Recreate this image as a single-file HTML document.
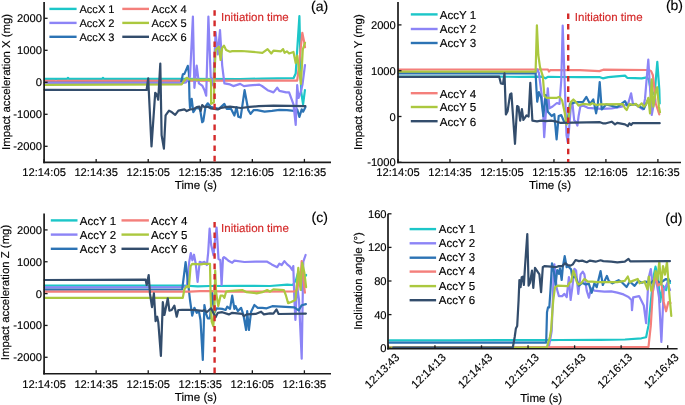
<!DOCTYPE html>
<html><head><meta charset="utf-8"><style>
html,body{margin:0;padding:0;background:#fff;width:685px;height:405px;overflow:hidden}
svg{display:block;font-family:"Liberation Sans", sans-serif} text{stroke-width:0.15px;text-rendering:geometricPrecision} svg{transform:translateZ(0)}
</style></head><body>
<svg width="685" height="405" viewBox="0 0 685 405">
<polyline points="44.6,78.9 67.0,78.9 68.0,77.8 69.0,78.9 102.0,78.9 103.0,77.8 104.0,78.9 182.0,78.9 240.0,79.0 262.0,78.6 293.5,78.2 295.7,73.5 297.2,50.0 299.4,16.1 301.2,91.7 302.4,100.0 303.1,104.3 304.9,90.2" fill="none" stroke="#1cc6c8" stroke-width="2.2" stroke-linejoin="round" stroke-linecap="round"/>
<polyline points="44.6,80.9 55.0,80.9 56.0,82.0 57.0,80.9 297.2,80.6 298.5,70.0 300.6,49.4 302.3,32.8 303.9,40.6 305.0,47.2" fill="none" stroke="#f47f7b" stroke-width="2.2" stroke-linejoin="round" stroke-linecap="round"/>
<polyline points="44.6,82.8 181.1,82.5 182.8,74.4 184.4,73.9 185.6,71.1 187.8,65.8 188.9,73.3 189.5,99.0 190.0,107.8 191.7,98.9 193.3,112.2 196.1,107.8 200.0,108.9 202.2,122.2 203.3,121.1 205.6,106.1 207.8,103.3 210.6,106.7 214.4,107.8 218.9,108.9 224.4,103.9 226.7,108.9 231.1,108.9 234.4,115.6 236.5,107.0 238.3,116.7 240.6,117.6 244.6,90.2 248.3,110.2 250.6,113.9 253.5,110.2 257.2,110.2 264.6,111.7 272.0,110.9 279.4,109.9 286.9,110.2 294.3,110.9 297.2,109.4 299.4,116.9 301.7,109.4 303.1,111.7 305.4,107.2" fill="none" stroke="#2c73b4" stroke-width="2.2" stroke-linejoin="round" stroke-linecap="round"/>
<polyline points="44.6,82.8 183.0,83.0 186.0,82.5 190.0,76.7 192.9,16.5 194.4,87.8 196.7,65.6 198.9,83.3 202.2,85.6 204.4,90.0 206.2,95.6 208.4,16.5 210.7,76.7 213.3,85.6 215.6,32.2 217.8,54.4 220.0,30.0 222.2,65.6 224.4,83.3 230.0,84.4 233.3,86.1 240.2,83.9 243.9,86.1 249.8,85.4 259.4,84.6 262.0,86.0 267.6,90.2 273.5,92.4 277.2,87.7 279.4,90.9 286.1,92.4 289.1,92.4 293.5,104.3 295.7,125.0 297.2,85.0 298.5,98.0 300.2,93.9 302.4,85.0 305.0,65.0" fill="none" stroke="#8c84f6" stroke-width="2.2" stroke-linejoin="round" stroke-linecap="round"/>
<polyline points="44.6,84.8 181.7,84.4 184.0,81.0 186.7,77.8 187.8,78.3 189.4,79.4 200.0,79.8 210.6,79.6 211.1,84.4 211.1,103.9 213.9,102.2 214.4,76.7 215.6,50.0 217.2,48.3 218.9,46.7 220.6,60.0 222.2,47.8 223.9,45.6 226.1,50.0 230.0,51.7 232.2,51.1 241.7,51.0 249.8,51.6 262.4,52.8 267.6,49.1 271.3,53.5 273.5,50.6 280.9,51.3 283.1,49.1 284.6,52.8 286.9,51.3 289.1,53.5 293.5,52.0 295.7,63.1 297.2,55.7 300.9,83.9 302.8,49.4 305.0,42.8" fill="none" stroke="#abc83f" stroke-width="2.2" stroke-linejoin="round" stroke-linecap="round"/>
<polyline points="44.6,89.8 146.6,90.0 148.2,78.4 151.5,146.4 155.2,92.8 156.8,94.5 158.2,99.7 160.3,63.6 161.6,135.1 163.9,148.6 165.6,115.3 169.0,110.6 172.0,112.3 175.2,114.8 178.4,110.6 184.4,109.4 186.7,111.1 190.0,109.4 193.3,109.1 196.7,107.2 199.4,106.7 200.6,111.0 202.2,105.0 204.4,107.2 207.8,106.7 210.6,108.3 214.4,108.9 217.8,109.4 221.1,107.8 225.6,107.2 230.0,106.7 240.9,108.0 249.8,106.9 258.7,106.2 273.5,105.7 305.4,106.2" fill="none" stroke="#334d6c" stroke-width="2.2" stroke-linejoin="round" stroke-linecap="round"/>
<polyline points="398.6,76.7 498.0,76.7 520.0,76.8 542.2,76.7 545.6,78.3 547.8,76.9 560.0,77.0 580.0,77.2 600.0,77.2 602.8,78.3 608.3,77.2 625.0,75.6 627.2,77.8 641.7,78.3 646.8,77.3 648.8,79.7 651.8,95.5 654.8,91.6 657.3,61.9 659.3,89.6 659.7,103.5" fill="none" stroke="#1cc6c8" stroke-width="2.2" stroke-linejoin="round" stroke-linecap="round"/>
<polyline points="398.6,69.6 420.0,69.5 440.0,69.5 548.0,69.5 549.0,71.5 550.5,70.0 580.0,70.2 599.4,71.1 603.3,69.7 647.2,70.0 649.0,70.0 651.1,71.1 652.8,75.0 653.9,83.9 655.7,103.5 657.7,109.4 659.3,114.4" fill="none" stroke="#f47f7b" stroke-width="2.2" stroke-linejoin="round" stroke-linecap="round"/>
<polyline points="398.6,72.6 536.0,72.6 537.2,69.4 538.9,72.8 541.7,95.0 543.0,110.0 544.2,137.2 545.5,118.0 547.8,88.3 549.4,108.3 552.6,106.5 556.9,103.0 559.5,103.9 561.3,80.0 562.7,25.5 563.9,60.0 566.5,135.0 567.7,142.0 569.0,129.8 570.8,107.3 572.5,103.9 574.2,120.3 576.0,122.0 577.4,125.5 578.6,116.0 580.3,106.5 582.9,105.6 587.8,107.8 594.4,108.3 601.7,108.9 611.7,108.3 621.7,106.7 628.3,103.3 631.1,93.3 632.8,103.3 637.2,105.6 642.8,109.4 645.0,98.9 648.3,59.5 651.7,115.0 653.0,108.0 655.0,100.0" fill="none" stroke="#8c84f6" stroke-width="2.2" stroke-linejoin="round" stroke-linecap="round"/>
<polyline points="398.6,73.4 535.6,73.3 536.5,90.0 537.2,101.7 538.9,92.2 541.1,97.2 543.3,116.1 545.6,95.0 547.8,111.7 551.7,116.0 554.3,114.2 556.6,139.4 558.7,116.0 561.3,115.1 563.9,121.2 567.3,122.9 569.9,103.9 576.0,102.1 582.9,102.1 586.4,96.9 590.0,103.9 593.3,99.4 596.1,113.3 597.8,104.4 599.7,82.0 601.7,109.4 606.1,104.4 617.2,107.2 625.0,101.1 627.2,105.6 635.0,104.0 643.9,108.9 646.0,104.0 648.0,100.0" fill="none" stroke="#2c73b4" stroke-width="2.2" stroke-linejoin="round" stroke-linecap="round"/>
<polyline points="398.6,71.7 535.6,71.7 536.9,25.3 538.3,55.0 540.0,67.2 542.8,76.1 544.4,96.1 546.7,97.8 556.9,97.8 559.5,96.9 562.1,100.4 564.7,112.5 566.5,124.6 568.2,121.2 570.8,102.1 573.4,99.5 576.0,102.1 578.6,105.6 582.9,103.9 590.0,104.7 592.2,103.3 596.7,105.0 600.0,104.4 622.8,104.2 625.0,108.3 626.7,110.0 629.4,103.9 632.8,105.0 636.1,103.9 638.3,106.7 641.7,103.3 643.9,106.7 646.1,104.4 648.3,97.8 650.0,113.3 651.7,79.4 653.3,106.7 655.6,92.2 657.2,87.2 658.9,106.7 660.0,112.2" fill="none" stroke="#abc83f" stroke-width="2.2" stroke-linejoin="round" stroke-linecap="round"/>
<polyline points="398.6,76.8 499.2,76.7 500.9,83.5 503.0,83.9 504.5,73.4 505.9,114.4 507.6,111.2 510.1,94.4 511.4,93.4 515.0,143.8 517.1,106.0 518.5,107.0 520.2,120.7 521.9,109.1 523.4,120.0 526.5,115.4 528.6,116.5 530.3,82.9 532.4,120.7 537.0,121.3 541.2,120.7 545.6,121.1 551.1,120.6 556.7,121.7 560.0,122.8 600.0,122.2 602.8,123.3 606.1,123.3 611.7,121.7 615.0,124.4 617.2,122.8 625.0,124.4 627.8,126.1 629.4,123.3 631.1,125.0 632.8,123.1 659.7,123.2" fill="none" stroke="#334d6c" stroke-width="2.2" stroke-linejoin="round" stroke-linecap="round"/>
<polyline points="44.6,285.6 182.2,285.5 197.8,286.4 210.0,286.0 240.0,285.9 270.0,286.0 287.2,284.6 292.8,285.0 296.0,280.0 298.3,271.7 300.0,285.0 302.0,290.0 304.0,278.0 306.1,275.0" fill="none" stroke="#1cc6c8" stroke-width="2.2" stroke-linejoin="round" stroke-linecap="round"/>
<polyline points="44.6,287.4 182.2,287.0 186.8,286.5 189.2,262.0 190.8,253.1 192.4,260.3 194.0,254.7 195.7,263.5 197.6,282.0 199.7,261.9 202.1,262.7 204.5,261.9 206.9,265.0 208.2,252.3 209.6,228.7 211.2,245.0 213.5,255.3 215.0,240.0 216.6,227.5 218.5,259.0 220.3,260.0 221.6,285.0 223.0,258.0 224.0,257.1 226.5,259.0 228.9,261.1 232.2,262.8 234.4,260.6 244.4,262.0 255.6,261.7 266.7,261.7 267.2,261.7 271.7,264.4 277.2,267.2 279.4,263.7 281.7,265.0 284.4,261.1 287.2,264.4 290.0,266.7 292.2,270.0 293.3,266.1 294.4,300.0 295.4,320.0 297.0,285.0 299.0,300.0 301.7,358.7 303.3,261.7 305.6,255.0" fill="none" stroke="#8c84f6" stroke-width="2.2" stroke-linejoin="round" stroke-linecap="round"/>
<polyline points="44.6,289.7 182.2,289.4 185.6,262.2 188.3,285.0 190.0,300.0 192.2,315.6 194.4,307.8 196.7,312.8 198.9,311.1 200.5,320.0 202.8,360.0 204.4,305.0 206.1,313.9 207.8,318.3 210.0,318.3 212.2,292.8 214.4,312.8 216.7,308.3 222.2,308.9 225.6,310.0 227.2,306.7 230.0,308.9 232.2,295.6 234.4,308.9 235.6,306.1 237.8,311.1 241.1,307.8 243.3,314.4 246.1,330.0 247.2,311.1 248.9,330.0 251.1,311.7 254.4,305.0 257.8,307.8 262.2,307.8 266.7,308.3 272.3,306.2 294.4,307.3 298.6,310.4 301.7,305.2 305.9,304.1" fill="none" stroke="#2c73b4" stroke-width="2.2" stroke-linejoin="round" stroke-linecap="round"/>
<polyline points="44.6,291.7 190.0,291.7 200.0,291.2 210.0,291.1 230.0,291.7 294.4,291.5 297.0,290.0 299.0,280.0 300.6,277.2 301.7,261.1 303.0,275.0 304.9,292.6" fill="none" stroke="#f47f7b" stroke-width="2.2" stroke-linejoin="round" stroke-linecap="round"/>
<polyline points="44.6,297.8 182.8,297.8 184.4,289.4 186.7,286.1 188.9,287.2 190.6,266.1 192.2,263.9 201.1,264.4 203.3,263.9 210.0,263.9 210.6,295.0 211.7,321.7 213.3,326.1 214.4,311.7 215.2,270.6 216.1,292.0 216.7,296.1 218.3,306.1 220.6,295.6 222.8,295.6 224.4,297.8 226.1,291.7 228.9,291.1 242.2,290.0 246.7,292.2 256.7,293.3 262.2,292.2 267.2,290.0 270.0,291.7 273.4,289.4 283.9,290.1 286.0,295.7 288.1,303.1 291.2,302.0 295.4,299.9 296.5,288.4 298.3,267.8 300.6,290.0 302.2,262.8 304.4,272.8 306.1,287.2" fill="none" stroke="#abc83f" stroke-width="2.2" stroke-linejoin="round" stroke-linecap="round"/>
<polyline points="44.6,280.0 145.6,279.6 146.7,285.0 148.7,275.0 150.0,293.9 152.0,307.2 153.9,293.3 155.6,321.1 157.2,316.7 158.3,322.2 160.9,355.9 162.8,302.2 164.4,315.0 167.8,298.3 169.4,310.6 171.7,310.0 174.4,305.6 176.7,316.7 178.3,310.0 182.2,309.8 188.9,309.8 195.6,310.0 202.2,310.9 204.4,310.0 206.7,312.2 211.1,308.3 213.3,312.8 215.6,317.2 217.8,312.8 222.2,312.2 228.9,314.4 232.2,312.8 242.2,313.9 243.9,316.1 246.7,314.4 255.6,313.9 261.1,311.7 263.9,314.4 270.0,313.3 273.4,313.6 276.5,309.4 278.6,314.0 305.9,313.6" fill="none" stroke="#334d6c" stroke-width="2.2" stroke-linejoin="round" stroke-linecap="round"/>
<polyline points="389.4,340.4 450.0,340.4 500.0,340.2 546.0,340.2 560.0,340.0 600.0,339.8 625.0,339.5 641.4,338.3 646.1,337.2 648.5,325.4 650.8,302.0 653.2,278.5 655.5,266.7 657.9,276.1 660.2,302.0 662.6,285.5 666.1,290.2 668.4,278.5 670.0,283.0" fill="none" stroke="#1cc6c8" stroke-width="2.2" stroke-linejoin="round" stroke-linecap="round"/>
<polyline points="389.4,347.6 548.6,347.6 550.5,338.0 551.7,330.9 552.8,300.0 553.6,275.0 554.4,264.4 556.7,288.3 558.9,296.1 562.2,296.1 564.4,293.9 566.7,297.2 568.9,277.2 570.6,300.0 572.2,288.3 574.4,268.9 576.1,270.6 578.3,293.9 580.6,274.4 582.8,271.7 584.4,274.4 586.7,290.6 588.9,297.8 591.1,288.3 594.4,290.6 598.9,291.1 604.4,291.7 611.2,291.4 617.3,292.6 623.5,294.4 628.5,296.9 631.5,300.0 632.0,310.2 633.2,297.3 639.1,296.1 643.8,305.5 646.1,323.1 648.5,278.5 650.8,269.1 653.2,290.2 655.5,276.1 659.0,297.3 661.4,341.9 663.7,290.2 667.3,283.2 670.0,290.0" fill="none" stroke="#8c84f6" stroke-width="2.2" stroke-linejoin="round" stroke-linecap="round"/>
<polyline points="389.4,342.7 546.2,342.7 547.0,312.3 548.0,307.4 549.3,307.4 550.5,290.0 552.0,263.3 553.9,271.7 555.6,285.0 557.2,270.0 558.9,273.9 560.0,268.3 561.7,280.0 562.8,267.2 564.7,256.1 566.7,267.2 568.3,266.1 570.0,268.3 571.1,269.4 572.2,277.2 575.6,277.2 578.9,285.6 582.2,282.8 585.6,284.4 588.9,283.9 591.7,292.8 594.4,283.3 596.7,287.2 600.6,271.1 602.8,285.0 606.9,275.9 608.7,280.9 612.4,283.3 618.6,280.2 622.3,282.7 626.6,287.0 629.7,281.5 634.6,285.8 638.3,280.9 642.0,282.7 645.7,281.5 650.0,284.0 655.0,279.0 660.0,283.0 666.0,279.0 670.0,281.0" fill="none" stroke="#2c73b4" stroke-width="2.2" stroke-linejoin="round" stroke-linecap="round"/>
<polyline points="389.4,347.6 648.5,346.8 650.8,325.4 653.2,285.5 655.5,276.1 657.9,285.5 661.4,283.2 663.7,302.0 666.1,311.3 668.4,302.0 670.5,303.0" fill="none" stroke="#f47f7b" stroke-width="2.2" stroke-linejoin="round" stroke-linecap="round"/>
<polyline points="389.4,347.6 546.8,347.6 549.9,337.0 551.1,329.6 552.3,312.3 553.3,300.0 555.0,287.2 557.8,285.6 567.8,286.1 569.4,282.8 571.1,281.7 573.3,270.6 575.0,275.0 576.7,281.7 578.3,284.4 581.1,283.3 584.4,278.9 587.8,281.7 592.2,281.7 597.8,282.2 605.0,282.1 617.3,282.1 624.8,280.9 627.8,276.5 629.7,282.1 632.8,280.9 637.7,279.0 639.6,283.3 644.5,281.5 647.6,289.5 648.8,276.5 651.3,290.7 653.1,285.8 655.6,271.0 657.5,279.6 659.3,261.1 661.2,284.6 663.0,266.0 665.0,274.7 667.0,262.0 669.0,290.0 671.3,316.0" fill="none" stroke="#abc83f" stroke-width="2.2" stroke-linejoin="round" stroke-linecap="round"/>
<polyline points="393.2,347.7 512.8,347.6 514.7,337.0 515.9,328.4 517.2,325.9 518.6,300.0 519.4,280.0 520.6,287.2 521.7,277.2 522.8,276.7 523.9,285.0 525.0,266.7 527.3,234.0 528.6,285.6 530.0,282.8 532.0,270.6 533.3,287.8 535.0,267.8 537.2,271.1 539.4,274.4 541.1,292.2 542.8,267.2 544.4,266.1 551.1,266.7 555.6,267.2 558.9,266.1 562.2,266.1 565.0,263.3 567.8,265.0 570.6,265.6 572.8,264.4 575.6,260.0 578.9,261.1 582.2,260.6 586.7,262.2 590.0,260.6 595.6,261.7 600.6,260.3 603.3,261.1 611.2,261.7 617.3,262.3 624.8,261.7 628.5,258.9 630.3,261.4 670.0,261.1" fill="none" stroke="#334d6c" stroke-width="2.2" stroke-linejoin="round" stroke-linecap="round"/>
<line x1="44.10" y1="2.00" x2="44.10" y2="163.20" stroke="#1a1a1a" stroke-width="1.7" />
<line x1="43.30" y1="162.40" x2="331.00" y2="162.40" stroke="#1a1a1a" stroke-width="1.6" />
<line x1="44.10" y1="18.30" x2="47.60" y2="18.30" stroke="#1a1a1a" stroke-width="1.3" />
<text x="41.90" y="22.30" font-size="11.2" text-anchor="end" fill="#000" stroke="#000" >2000</text>
<line x1="44.10" y1="50.30" x2="47.60" y2="50.30" stroke="#1a1a1a" stroke-width="1.3" />
<text x="41.90" y="54.30" font-size="11.2" text-anchor="end" fill="#000" stroke="#000" >1000</text>
<line x1="44.10" y1="82.30" x2="47.60" y2="82.30" stroke="#1a1a1a" stroke-width="1.3" />
<text x="41.90" y="86.30" font-size="11.2" text-anchor="end" fill="#000" stroke="#000" >0</text>
<line x1="44.10" y1="114.30" x2="47.60" y2="114.30" stroke="#1a1a1a" stroke-width="1.3" />
<text x="41.90" y="118.30" font-size="11.2" text-anchor="end" fill="#000" stroke="#000" >-1000</text>
<line x1="44.10" y1="146.30" x2="47.60" y2="146.30" stroke="#1a1a1a" stroke-width="1.3" />
<text x="41.90" y="150.30" font-size="11.2" text-anchor="end" fill="#000" stroke="#000" >-2000</text>
<line x1="44.10" y1="162.40" x2="44.10" y2="158.90" stroke="#1a1a1a" stroke-width="1.3" />
<text x="44.10" y="176.30" font-size="11.2" text-anchor="middle" fill="#000" stroke="#000" >12:14:05</text>
<line x1="96.16" y1="162.40" x2="96.16" y2="158.90" stroke="#1a1a1a" stroke-width="1.3" />
<text x="96.16" y="176.30" font-size="11.2" text-anchor="middle" fill="#000" stroke="#000" >12:14:35</text>
<line x1="148.22" y1="162.40" x2="148.22" y2="158.90" stroke="#1a1a1a" stroke-width="1.3" />
<text x="148.22" y="176.30" font-size="11.2" text-anchor="middle" fill="#000" stroke="#000" >12:15:05</text>
<line x1="200.28" y1="162.40" x2="200.28" y2="158.90" stroke="#1a1a1a" stroke-width="1.3" />
<text x="200.28" y="176.30" font-size="11.2" text-anchor="middle" fill="#000" stroke="#000" >12:15:35</text>
<line x1="252.34" y1="162.40" x2="252.34" y2="158.90" stroke="#1a1a1a" stroke-width="1.3" />
<text x="252.34" y="176.30" font-size="11.2" text-anchor="middle" fill="#000" stroke="#000" >12:16:05</text>
<line x1="304.40" y1="162.40" x2="304.40" y2="158.90" stroke="#1a1a1a" stroke-width="1.3" />
<text x="304.40" y="176.30" font-size="11.2" text-anchor="middle" fill="#000" stroke="#000" >12:16:35</text>
<text x="195.90" y="189.30" font-size="11.6" text-anchor="middle" fill="#000" stroke="#000" >Time (s)</text>
<text x="9.9" y="81.90" font-size="11.4" text-anchor="middle" stroke="#000" transform="rotate(-90 9.9 81.90)">Impact acceleration X (mg)</text>
<line x1="398.00" y1="2.00" x2="398.00" y2="163.30" stroke="#1a1a1a" stroke-width="1.7" />
<line x1="397.20" y1="162.50" x2="681.00" y2="162.50" stroke="#1a1a1a" stroke-width="1.6" />
<line x1="398.00" y1="24.90" x2="401.50" y2="24.90" stroke="#1a1a1a" stroke-width="1.3" />
<text x="395.80" y="28.90" font-size="11.2" text-anchor="end" fill="#000" stroke="#000" >2000</text>
<line x1="398.00" y1="70.70" x2="401.50" y2="70.70" stroke="#1a1a1a" stroke-width="1.3" />
<text x="395.80" y="74.70" font-size="11.2" text-anchor="end" fill="#000" stroke="#000" >1000</text>
<line x1="398.00" y1="116.50" x2="401.50" y2="116.50" stroke="#1a1a1a" stroke-width="1.3" />
<text x="395.80" y="120.50" font-size="11.2" text-anchor="end" fill="#000" stroke="#000" >0</text>
<line x1="398.00" y1="162.30" x2="401.50" y2="162.30" stroke="#1a1a1a" stroke-width="1.3" />
<text x="395.80" y="166.30" font-size="11.2" text-anchor="end" fill="#000" stroke="#000" >-1000</text>
<line x1="398.00" y1="162.50" x2="398.00" y2="159.00" stroke="#1a1a1a" stroke-width="1.3" />
<text x="398.00" y="176.30" font-size="11.2" text-anchor="middle" fill="#000" stroke="#000" >12:14:05</text>
<line x1="449.98" y1="162.50" x2="449.98" y2="159.00" stroke="#1a1a1a" stroke-width="1.3" />
<text x="449.98" y="176.30" font-size="11.2" text-anchor="middle" fill="#000" stroke="#000" >12:14:35</text>
<line x1="501.96" y1="162.50" x2="501.96" y2="159.00" stroke="#1a1a1a" stroke-width="1.3" />
<text x="501.96" y="176.30" font-size="11.2" text-anchor="middle" fill="#000" stroke="#000" >12:15:05</text>
<line x1="553.94" y1="162.50" x2="553.94" y2="159.00" stroke="#1a1a1a" stroke-width="1.3" />
<text x="553.94" y="176.30" font-size="11.2" text-anchor="middle" fill="#000" stroke="#000" >12:15:35</text>
<line x1="605.92" y1="162.50" x2="605.92" y2="159.00" stroke="#1a1a1a" stroke-width="1.3" />
<text x="605.92" y="176.30" font-size="11.2" text-anchor="middle" fill="#000" stroke="#000" >12:16:05</text>
<line x1="657.90" y1="162.50" x2="657.90" y2="159.00" stroke="#1a1a1a" stroke-width="1.3" />
<text x="657.90" y="176.30" font-size="11.2" text-anchor="middle" fill="#000" stroke="#000" >12:16:35</text>
<text x="550.00" y="189.30" font-size="11.6" text-anchor="middle" fill="#000" stroke="#000" >Time (s)</text>
<text x="362" y="82.15" font-size="11.4" text-anchor="middle" stroke="#000" transform="rotate(-90 362 82.15)">Impact acceleration Y (mg)</text>
<line x1="44.10" y1="213.50" x2="44.10" y2="374.60" stroke="#1a1a1a" stroke-width="1.7" />
<line x1="43.30" y1="373.80" x2="331.00" y2="373.80" stroke="#1a1a1a" stroke-width="1.6" />
<line x1="44.10" y1="229.92" x2="47.60" y2="229.92" stroke="#1a1a1a" stroke-width="1.3" />
<text x="41.90" y="233.92" font-size="11.2" text-anchor="end" fill="#000" stroke="#000" >2000</text>
<line x1="44.10" y1="261.76" x2="47.60" y2="261.76" stroke="#1a1a1a" stroke-width="1.3" />
<text x="41.90" y="265.76" font-size="11.2" text-anchor="end" fill="#000" stroke="#000" >1000</text>
<line x1="44.10" y1="293.60" x2="47.60" y2="293.60" stroke="#1a1a1a" stroke-width="1.3" />
<text x="41.90" y="297.60" font-size="11.2" text-anchor="end" fill="#000" stroke="#000" >0</text>
<line x1="44.10" y1="325.44" x2="47.60" y2="325.44" stroke="#1a1a1a" stroke-width="1.3" />
<text x="41.90" y="329.44" font-size="11.2" text-anchor="end" fill="#000" stroke="#000" >-1000</text>
<line x1="44.10" y1="357.28" x2="47.60" y2="357.28" stroke="#1a1a1a" stroke-width="1.3" />
<text x="41.90" y="361.28" font-size="11.2" text-anchor="end" fill="#000" stroke="#000" >-2000</text>
<line x1="44.10" y1="373.80" x2="44.10" y2="370.30" stroke="#1a1a1a" stroke-width="1.3" />
<text x="44.10" y="387.70" font-size="11.2" text-anchor="middle" fill="#000" stroke="#000" >12:14:05</text>
<line x1="96.16" y1="373.80" x2="96.16" y2="370.30" stroke="#1a1a1a" stroke-width="1.3" />
<text x="96.16" y="387.70" font-size="11.2" text-anchor="middle" fill="#000" stroke="#000" >12:14:35</text>
<line x1="148.22" y1="373.80" x2="148.22" y2="370.30" stroke="#1a1a1a" stroke-width="1.3" />
<text x="148.22" y="387.70" font-size="11.2" text-anchor="middle" fill="#000" stroke="#000" >12:15:05</text>
<line x1="200.28" y1="373.80" x2="200.28" y2="370.30" stroke="#1a1a1a" stroke-width="1.3" />
<text x="200.28" y="387.70" font-size="11.2" text-anchor="middle" fill="#000" stroke="#000" >12:15:35</text>
<line x1="252.34" y1="373.80" x2="252.34" y2="370.30" stroke="#1a1a1a" stroke-width="1.3" />
<text x="252.34" y="387.70" font-size="11.2" text-anchor="middle" fill="#000" stroke="#000" >12:16:05</text>
<line x1="304.40" y1="373.80" x2="304.40" y2="370.30" stroke="#1a1a1a" stroke-width="1.3" />
<text x="304.40" y="387.70" font-size="11.2" text-anchor="middle" fill="#000" stroke="#000" >12:16:35</text>
<text x="195.90" y="400.50" font-size="11.6" text-anchor="middle" fill="#000" stroke="#000" >Time (s)</text>
<text x="9.3" y="292.50" font-size="11.4" text-anchor="middle" stroke="#000" transform="rotate(-90 9.3 292.50)">Impact acceleration Z (mg)</text>
<line x1="388.00" y1="213.80" x2="388.00" y2="349.60" stroke="#1a1a1a" stroke-width="1.7" />
<line x1="387.20" y1="348.80" x2="677.60" y2="348.80" stroke="#1a1a1a" stroke-width="1.6" />
<line x1="388.00" y1="348.20" x2="391.50" y2="348.20" stroke="#1a1a1a" stroke-width="1.3" />
<text x="386.60" y="352.20" font-size="11.2" text-anchor="end" fill="#000" stroke="#000" >0</text>
<line x1="388.00" y1="314.60" x2="391.50" y2="314.60" stroke="#1a1a1a" stroke-width="1.3" />
<text x="386.60" y="318.60" font-size="11.2" text-anchor="end" fill="#000" stroke="#000" >40</text>
<line x1="388.00" y1="281.00" x2="391.50" y2="281.00" stroke="#1a1a1a" stroke-width="1.3" />
<text x="386.60" y="285.00" font-size="11.2" text-anchor="end" fill="#000" stroke="#000" >80</text>
<line x1="388.00" y1="247.40" x2="391.50" y2="247.40" stroke="#1a1a1a" stroke-width="1.3" />
<text x="386.60" y="251.40" font-size="11.2" text-anchor="end" fill="#000" stroke="#000" >120</text>
<line x1="388.00" y1="213.80" x2="391.50" y2="213.80" stroke="#1a1a1a" stroke-width="1.3" />
<text x="386.60" y="217.80" font-size="11.2" text-anchor="end" fill="#000" stroke="#000" >160</text>
<line x1="388.40" y1="348.80" x2="388.40" y2="345.30" stroke="#1a1a1a" stroke-width="1.3" />
<text x="400.10" y="358.10" font-size="11.2" text-anchor="end" stroke="#000" transform="rotate(-45 400.10 358.10)">12:13:43</text>
<line x1="434.95" y1="348.80" x2="434.95" y2="345.30" stroke="#1a1a1a" stroke-width="1.3" />
<text x="446.65" y="358.10" font-size="11.2" text-anchor="end" stroke="#000" transform="rotate(-45 446.65 358.10)">12:14:13</text>
<line x1="481.50" y1="348.80" x2="481.50" y2="345.30" stroke="#1a1a1a" stroke-width="1.3" />
<text x="493.20" y="358.10" font-size="11.2" text-anchor="end" stroke="#000" transform="rotate(-45 493.20 358.10)">12:14:43</text>
<line x1="528.05" y1="348.80" x2="528.05" y2="345.30" stroke="#1a1a1a" stroke-width="1.3" />
<text x="539.75" y="358.10" font-size="11.2" text-anchor="end" stroke="#000" transform="rotate(-45 539.75 358.10)">12:15:13</text>
<line x1="574.60" y1="348.80" x2="574.60" y2="345.30" stroke="#1a1a1a" stroke-width="1.3" />
<text x="586.30" y="358.10" font-size="11.2" text-anchor="end" stroke="#000" transform="rotate(-45 586.30 358.10)">12:15:43</text>
<line x1="621.15" y1="348.80" x2="621.15" y2="345.30" stroke="#1a1a1a" stroke-width="1.3" />
<text x="632.85" y="358.10" font-size="11.2" text-anchor="end" stroke="#000" transform="rotate(-45 632.85 358.10)">12:16:13</text>
<line x1="667.70" y1="348.80" x2="667.70" y2="345.30" stroke="#1a1a1a" stroke-width="1.3" />
<text x="679.40" y="358.10" font-size="11.2" text-anchor="end" stroke="#000" transform="rotate(-45 679.40 358.10)">12:16:43</text>
<text x="541.20" y="402.20" font-size="11.6" text-anchor="middle" fill="#000" stroke="#000" >Time (s)</text>
<text x="362" y="281.00" font-size="11.4" text-anchor="middle" stroke="#000" transform="rotate(-90 362 281.00)">Inclination angle (°)</text>
<line x1="214.60" y1="10.20" x2="214.60" y2="162.00" stroke="#d42a2a" stroke-width="2.4" stroke-dasharray="5.6,4.8"/>
<text x="221.00" y="20.60" font-size="11.5" text-anchor="start" fill="#d42a2a" stroke="#d42a2a" >Initiation time</text>
<line x1="568.20" y1="13.50" x2="568.20" y2="162.00" stroke="#d42a2a" stroke-width="2.4" stroke-dasharray="5.6,4.8"/>
<text x="574.80" y="20.50" font-size="11.5" text-anchor="start" fill="#d42a2a" stroke="#d42a2a" >Initiation time</text>
<line x1="214.60" y1="222.00" x2="214.60" y2="373.50" stroke="#d42a2a" stroke-width="2.4" stroke-dasharray="5.6,4.8"/>
<text x="221.10" y="231.70" font-size="11.5" text-anchor="start" fill="#d42a2a" stroke="#d42a2a" >Initiation time</text>
<line x1="49.40" y1="8.90" x2="76.60" y2="8.90" stroke="#1cc6c8" stroke-width="2.4" />
<text x="79.40" y="12.90" font-size="11.1" text-anchor="start" fill="#000" stroke="#000" >AccX 1</text>
<line x1="49.40" y1="22.90" x2="76.60" y2="22.90" stroke="#8c84f6" stroke-width="2.4" />
<text x="79.40" y="26.90" font-size="11.1" text-anchor="start" fill="#000" stroke="#000" >AccX 2</text>
<line x1="49.40" y1="36.80" x2="76.60" y2="36.80" stroke="#2c73b4" stroke-width="2.4" />
<text x="79.40" y="40.80" font-size="11.1" text-anchor="start" fill="#000" stroke="#000" >AccX 3</text>
<line x1="122.30" y1="8.90" x2="149.00" y2="8.90" stroke="#f47f7b" stroke-width="2.4" />
<text x="151.60" y="12.90" font-size="11.1" text-anchor="start" fill="#000" stroke="#000" >AccX 4</text>
<line x1="122.30" y1="22.90" x2="149.00" y2="22.90" stroke="#abc83f" stroke-width="2.4" />
<text x="151.60" y="26.90" font-size="11.1" text-anchor="start" fill="#000" stroke="#000" >AccX 5</text>
<line x1="122.30" y1="36.80" x2="149.00" y2="36.80" stroke="#334d6c" stroke-width="2.4" />
<text x="151.60" y="40.80" font-size="11.1" text-anchor="start" fill="#000" stroke="#000" >AccX 6</text>
<line x1="410.80" y1="14.40" x2="437.60" y2="14.40" stroke="#1cc6c8" stroke-width="2.4" />
<text x="439.80" y="18.80" font-size="11.6" text-anchor="start" fill="#000" stroke="#000" >AccY 1</text>
<line x1="410.80" y1="29.00" x2="437.60" y2="29.00" stroke="#8c84f6" stroke-width="2.4" />
<text x="439.80" y="33.40" font-size="11.6" text-anchor="start" fill="#000" stroke="#000" >AccY 2</text>
<line x1="410.80" y1="43.00" x2="437.60" y2="43.00" stroke="#2c73b4" stroke-width="2.4" />
<text x="439.80" y="47.40" font-size="11.6" text-anchor="start" fill="#000" stroke="#000" >AccY 3</text>
<line x1="410.80" y1="93.20" x2="437.60" y2="93.20" stroke="#f47f7b" stroke-width="2.4" />
<text x="439.80" y="97.60" font-size="11.6" text-anchor="start" fill="#000" stroke="#000" >AccY 4</text>
<line x1="410.80" y1="107.00" x2="437.60" y2="107.00" stroke="#abc83f" stroke-width="2.4" />
<text x="439.80" y="111.40" font-size="11.6" text-anchor="start" fill="#000" stroke="#000" >AccY 5</text>
<line x1="410.80" y1="121.20" x2="437.60" y2="121.20" stroke="#334d6c" stroke-width="2.4" />
<text x="439.80" y="125.60" font-size="11.6" text-anchor="start" fill="#000" stroke="#000" >AccY 6</text>
<line x1="50.80" y1="220.40" x2="77.50" y2="220.40" stroke="#1cc6c8" stroke-width="2.4" />
<text x="79.80" y="224.80" font-size="11.5" text-anchor="start" fill="#000" stroke="#000" >AccY 1</text>
<line x1="50.80" y1="234.60" x2="77.50" y2="234.60" stroke="#8c84f6" stroke-width="2.4" />
<text x="79.80" y="239.00" font-size="11.5" text-anchor="start" fill="#000" stroke="#000" >AccY 2</text>
<line x1="50.80" y1="248.80" x2="77.50" y2="248.80" stroke="#2c73b4" stroke-width="2.4" />
<text x="79.80" y="253.20" font-size="11.5" text-anchor="start" fill="#000" stroke="#000" >AccY 3</text>
<line x1="121.50" y1="220.40" x2="148.90" y2="220.40" stroke="#f47f7b" stroke-width="2.4" />
<text x="151.10" y="224.80" font-size="11.5" text-anchor="start" fill="#000" stroke="#000" >AccY 4</text>
<line x1="121.50" y1="234.60" x2="148.90" y2="234.60" stroke="#abc83f" stroke-width="2.4" />
<text x="151.10" y="239.00" font-size="11.5" text-anchor="start" fill="#000" stroke="#000" >AccY 5</text>
<line x1="121.50" y1="248.80" x2="148.90" y2="248.80" stroke="#334d6c" stroke-width="2.4" />
<text x="151.10" y="253.20" font-size="11.5" text-anchor="start" fill="#000" stroke="#000" >AccY 6</text>
<line x1="409.60" y1="229.10" x2="436.10" y2="229.10" stroke="#1cc6c8" stroke-width="2.4" />
<text x="438.80" y="232.80" font-size="11.5" text-anchor="start" fill="#000" stroke="#000" >AccY 1</text>
<line x1="409.60" y1="243.30" x2="436.10" y2="243.30" stroke="#8c84f6" stroke-width="2.4" />
<text x="438.80" y="247.00" font-size="11.5" text-anchor="start" fill="#000" stroke="#000" >AccY 2</text>
<line x1="409.60" y1="257.70" x2="436.10" y2="257.70" stroke="#2c73b4" stroke-width="2.4" />
<text x="438.80" y="261.40" font-size="11.5" text-anchor="start" fill="#000" stroke="#000" >AccY 3</text>
<line x1="409.60" y1="271.60" x2="436.10" y2="271.60" stroke="#f47f7b" stroke-width="2.4" />
<text x="438.80" y="275.30" font-size="11.5" text-anchor="start" fill="#000" stroke="#000" >AccY 4</text>
<line x1="409.60" y1="286.10" x2="436.10" y2="286.10" stroke="#abc83f" stroke-width="2.4" />
<text x="438.80" y="289.80" font-size="11.5" text-anchor="start" fill="#000" stroke="#000" >AccY 5</text>
<line x1="409.60" y1="300.20" x2="436.10" y2="300.20" stroke="#334d6c" stroke-width="2.4" />
<text x="438.80" y="303.90" font-size="11.5" text-anchor="start" fill="#000" stroke="#000" >AccY 6</text>
<text x="328.20" y="11.00" font-size="14" text-anchor="end" fill="#000" stroke="#000" >(a)</text>
<text x="683.00" y="10.40" font-size="14" text-anchor="end" fill="#000" stroke="#000" >(b)</text>
<text x="327.90" y="221.90" font-size="14" text-anchor="end" fill="#000" stroke="#000" >(c)</text>
<text x="682.40" y="222.80" font-size="14" text-anchor="end" fill="#000" stroke="#000" >(d)</text>
</svg>
</body></html>
